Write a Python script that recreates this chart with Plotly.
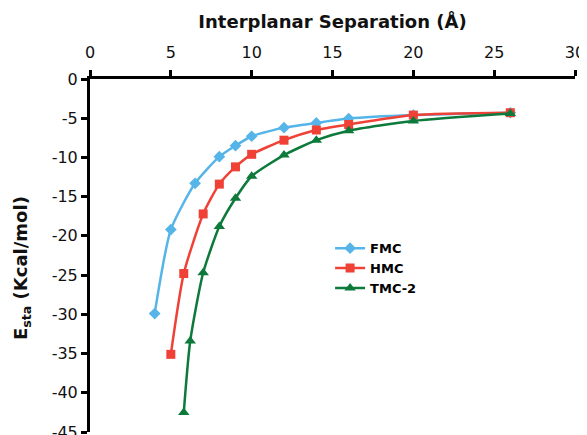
import plotly.graph_objects as go

fmc_x = [4, 5, 6.5, 8, 9, 10, 12, 14, 16, 20, 26]
fmc_y = [-29.9, -19.2, -13.3, -9.9, -8.5, -7.3, -6.2, -5.6, -5.05, -4.6, -4.3]
hmc_x = [5, 5.8, 7, 8, 9, 10, 12, 14, 16, 20, 26]
hmc_y = [-35.1, -24.8, -17.2, -13.4, -11.2, -9.6, -7.8, -6.5, -5.8, -4.6, -4.3]
tmc_x = [5.8, 6.2, 7, 8, 9, 10, 12, 14, 16, 20, 26]
tmc_y = [-42.5, -33.4, -24.7, -18.8, -15.2, -12.4, -9.7, -7.8, -6.6, -5.35, -4.4]

x_ticks = [0, 5, 10, 15, 20, 25, 30]
y_ticks = [0, -5, -10, -15, -20, -25, -30, -35, -40, -45]
y_tick_labels = ["0", "-5", "-10", "-15", "-20", "-25", "-30", "-35", "-40", "-45"]

series = [
    ("FMC", fmc_x, fmc_y, "#55b4e8", "diamond", 9),
    ("HMC", hmc_x, hmc_y, "#ef4136", "square", 9),
    ("TMC-2", tmc_x, tmc_y, "#0d7a3c", "triangle-up", 10),
]

fig = go.Figure()
for name, xs, ys, col, sym, sz in series:
    fig.add_trace(go.Scatter(
        x=xs, y=ys, name=name, mode="lines+markers",
        line=dict(color=col, width=2.5, shape="spline", smoothing=0.6),
        marker=dict(symbol=sym, size=sz, color=col),
    ))

font = "DejaVu Sans, Verdana, sans-serif"
# the page body has an 8px default margin, so the figure is sized to fit the window
fig.update_layout(
    width=579, height=427,
    margin=dict(l=82, r=12, t=71, b=3),
    plot_bgcolor="white", paper_bgcolor="white",
    font=dict(family=font, size=16, color="#111111"),
    showlegend=True,
    legend=dict(x=0.495, y=0.563, xanchor="left", yanchor="top",
                font=dict(family=font, size=13, color="black", weight="bold"),
                bgcolor="rgba(0,0,0,0)", itemwidth=30, tracegroupgap=2),
    xaxis=dict(
        side="top", range=[0, 30], tickvals=x_ticks,
        showgrid=False, zeroline=False, automargin=False,
        showline=True, linecolor="black", linewidth=3,
        ticks="outside", ticklen=6, tickwidth=3, tickcolor="black",
        ticklabelstandoff=6,
        title=dict(text="<b>Interplanar Separation (Å)</b>", font=dict(size=18), standoff=10),
        anchor="y",
    ),
    yaxis=dict(
        range=[-45, 0], tickvals=y_ticks, ticktext=y_tick_labels,
        ticklabeloverflow="allow",
        showgrid=False, zeroline=False, automargin=False,
        showline=True, linecolor="black", linewidth=3,
        ticks="outside", ticklen=6, tickwidth=3, tickcolor="black",
    ),
    annotations=[dict(
        text="<b>E<sub>sta</sub> (Kcal/mol)</b>", textangle=-90,
        xref="paper", yref="paper", x=-0.14, y=0.465,
        xanchor="center", yanchor="middle", showarrow=False,
        font=dict(family=font, size=18, color="#111111"),
    )],
)

fig.write_html("out.html")
